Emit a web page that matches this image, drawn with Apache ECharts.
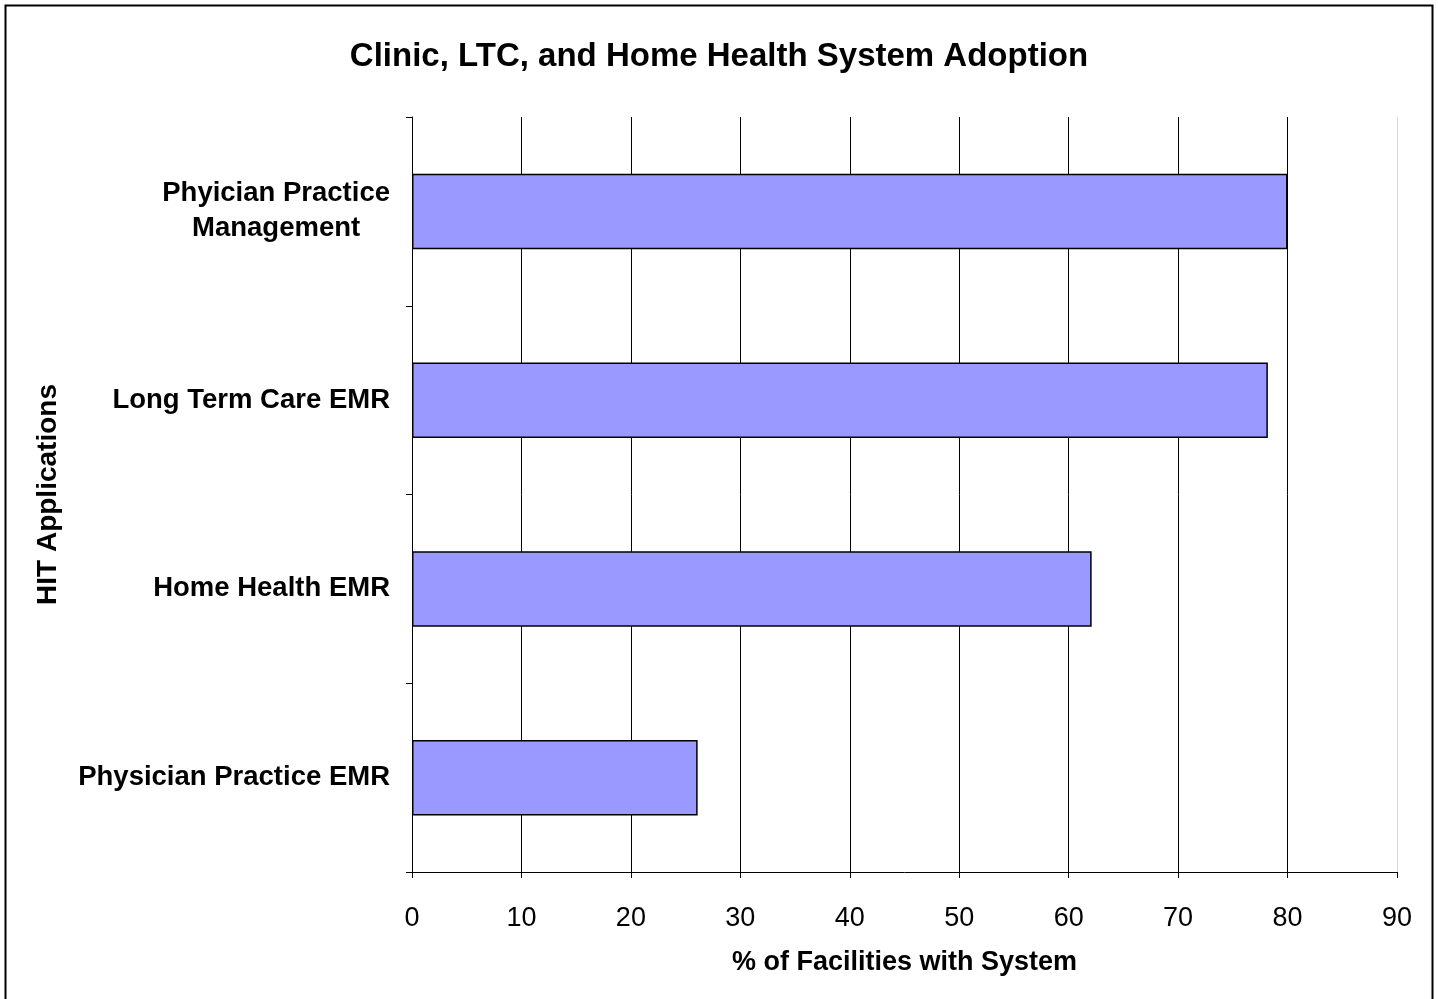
<!DOCTYPE html>
<html>
<head>
<meta charset="utf-8">
<title>Clinic, LTC, and Home Health System Adoption</title>
<script src="https://cdn.jsdelivr.net/npm/echarts@6/dist/echarts.min.js"></script>
<style>
  html, body { margin: 0; padding: 0; background: #fff; }
  #chart { width: 1438px; height: 999px; }
</style>
</head>
<body>
<div id="chart"></div>
<script>
// HIT application categories, listed bottom to top as the category axis draws them
const categories = [
  'Physician Practice EMR',
  'Home Health EMR',
  'Long Term Care EMR',
  'Phyician Practice Management'
];
// Share of facilities with each system (%)
const adoption = [26.1, 62.1, 78.2, 80];
// Value axis range
const xMin = 0;
const xMax = 90;
const xStep = 10;

const FONT = 'Liberation Sans, Arial, sans-serif';
const CAT_SIZE = 27.5;

const chart = echarts.init(document.getElementById('chart'), null, { renderer: 'canvas' });

// Lighter line at the far right edge, dark gridlines elsewhere
const gridColors = [];
for (let v = xMin; v <= xMax; v += xStep) {
  gridColors.push(v === xMax ? '#d9d9d9' : '#000000');
}

chart.setOption({
  backgroundColor: '#ffffff',
  animation: false,
  graphic: [{
    type: 'rect',
    shape: { x: 5.5, y: 5.5, width: 1427, height: 1010 },
    style: { fill: 'none', stroke: '#000', lineWidth: 2 },
    silent: true,
    z: -1
  }],
  title: {
    text: 'Clinic, LTC, and Home Health System Adoption',
    left: 'center',
    top: 35,
    textStyle: { fontFamily: FONT, fontSize: 33, fontWeight: 'bold', color: '#000' }
  },
  grid: { left: 412, right: 41, top: 117, bottom: 127, containLabel: false },
  xAxis: {
    type: 'value',
    min: xMin,
    max: xMax,
    interval: xStep,
    name: '% of Facilities with System',
    nameLocation: 'middle',
    nameGap: 77,
    nameTextStyle: { fontFamily: FONT, fontSize: 27, fontWeight: 'bold', color: '#000' },
    axisLine: { show: true, lineStyle: { color: '#000', width: 1 } },
    axisTick: { show: true, length: 6, lineStyle: { color: '#000' } },
    axisLabel: { fontFamily: FONT, fontSize: 27, color: '#000', margin: 33 },
    splitLine: { show: true, lineStyle: { color: gridColors, width: 1 } }
  },
  yAxis: {
    type: 'category',
    data: categories,
    name: 'HIT Applications',
    nameLocation: 'middle',
    nameGap: 350,
    nameRotate: 90,
    nameTextStyle: { fontFamily: FONT, fontSize: 28, fontWeight: 'bold', color: '#000' },
    axisLine: { show: true, lineStyle: { color: '#000', width: 1 } },
    axisTick: { show: true, length: 6, alignWithLabel: false, lineStyle: { color: '#000' } },
    axisLabel: {
      margin: 22,
      fontFamily: FONT,
      fontSize: CAT_SIZE,
      fontWeight: 'bold',
      color: '#000',
      lineHeight: 35,
      formatter: function (val) {
        if (val === 'Phyician Practice Management') {
          return '{c|Phyician Practice}\n{c|Management}';
        }
        return val;
      },
      rich: {
        c: { align: 'center', fontFamily: FONT, fontSize: CAT_SIZE, fontWeight: 'bold', color: '#000', lineHeight: 35 }
      }
    },
    splitLine: { show: false }
  },
  series: [{
    type: 'bar',
    data: adoption,
    barWidth: '40%',
    itemStyle: { color: '#9999ff', borderColor: '#000', borderWidth: 1.5 },
    label: { show: false }
  }]
});
</script>
</body>
</html>
